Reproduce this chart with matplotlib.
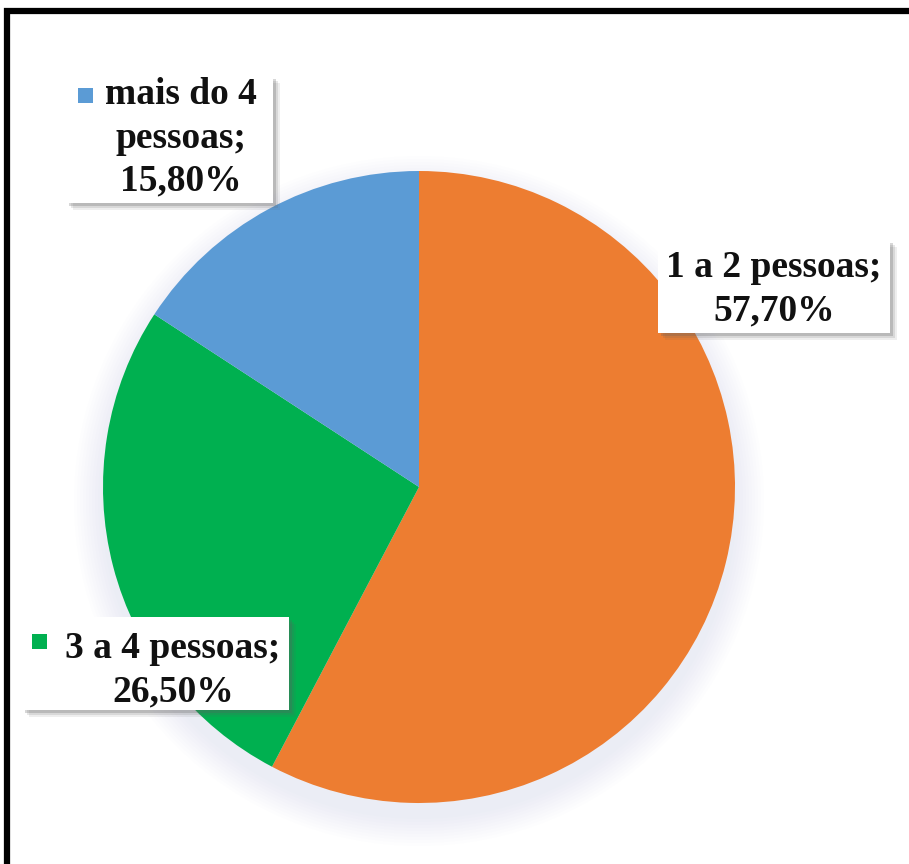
"""
Pie chart: number of people per household (pessoas).
Saves out.png
"""

import matplotlib.pyplot as plt
from matplotlib.patches import Rectangle, Circle
from matplotlib.lines import Line2D

# ── Data ─────────────────────────────────────────────────────────────────────
categories = ["1 a 2 pessoas", "3 a 4 pessoas", "mais do 4 pessoas"]
values     = [57.70, 26.50, 15.80]
colors     = ["#ED7D31", "#00B050", "#5B9BD5"]

W, H = 909, 864
FONT = "Liberation Serif"


def py(y):
    # pixel row (from top) -> data y
    return H - y


def pct(v):
    return f"{v:.2f}".replace(".", ",") + "%"


fig = plt.figure(figsize=(W / 100, H / 100), dpi=100)
ax = fig.add_axes([0, 0, 1, 1])

cx, cy, r = 419, py(487), 316

# soft shadow under the pie
for i in range(10):
    ax.add_patch(Circle((cx, cy - 14), r + 2 + i * 3, color="#b8c6d6",
                        alpha=0.025, lw=0, zorder=1))

ax.pie(values, colors=colors, startangle=90, counterclock=False,
       center=(cx, cy), radius=r,
       wedgeprops=dict(linewidth=0, zorder=2))
ax.set_xlim(0, W)
ax.set_ylim(0, H)
ax.set_aspect("equal")
ax.set_axis_off()


# ── Label boxes ──────────────────────────────────────────────────────────────
def label_box(x0, y0, x1, y1):
    # shadow then white box (pixel coords from top-left)
    for k, a in [(7, 0.10), (5, 0.15), (3, 0.25)]:
        ax.add_patch(Rectangle((x0 + k, py(y1 + k)), x1 - x0, y1 - y0,
                               color="#606060", alpha=a, lw=0, zorder=5))
    ax.add_patch(Rectangle((x0, py(y1)), x1 - x0, y1 - y0,
                           color="white", lw=0, zorder=6))


def key(x, y, c):
    ax.add_patch(Rectangle((x, py(y + 15)), 15, 15, color=c, lw=0, zorder=7))


txt = dict(fontsize=27, fontweight="bold", family=FONT, color="#111111",
           ha="center", va="center", linespacing=1.3, zorder=8)

# 1 a 2 pessoas
label_box(658, 240, 890, 333)
ax.text(774, py(289), f"{categories[0]};\n{pct(values[0])}", **txt)

# 3 a 4 pessoas
label_box(22, 617, 289, 710)
key(32, 634, colors[1])
ax.text(173, py(670), f"{categories[1]};\n{pct(values[1])}", **txt)

# mais do 4 pessoas
label_box(66, 76, 273, 203)
key(78, 88, colors[2])
ax.text(181, py(138), f"mais do 4\npessoas;\n{pct(values[2])}", **txt)

# ── Frame (only top and left edges are inside the crop) ─────────────────────
fig.add_artist(Line2D([7 / W, 7 / W, 1.05], [-0.05, py(11) / H, py(11) / H],
                      transform=fig.transFigure, color="black", lw=4.5,
                      solid_joinstyle="miter"))

fig.savefig("out.png", dpi=100, facecolor="white")
